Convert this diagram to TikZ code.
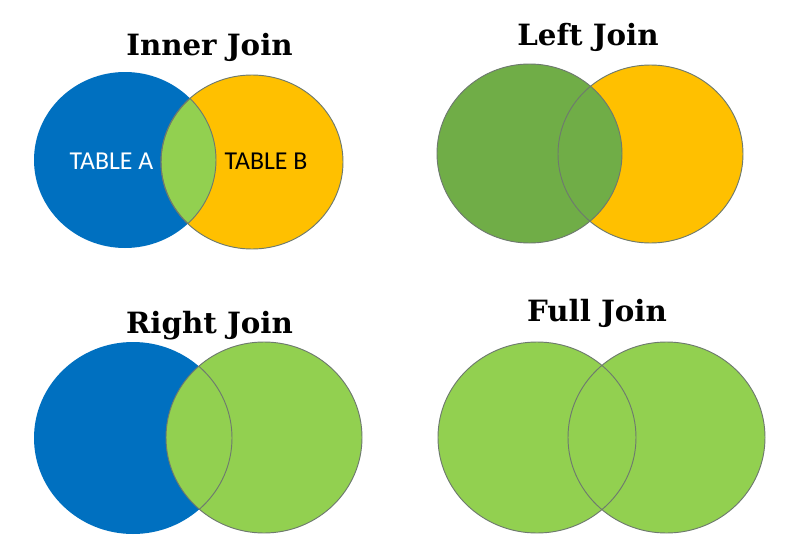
\documentclass[tikz,border=0pt]{standalone}
\usepackage{fontspec}
\newfontfamily\titlefont{DejaVu Serif}
\newfontfamily\labelfont{Carlito}
\definecolor{cblue}{RGB}{0,112,192}
\definecolor{cyellow}{RGB}{255,192,0}
\definecolor{clight}{RGB}{146,208,80}
\definecolor{cgreen}{RGB}{112,173,71}
\definecolor{cedge}{RGB}{110,122,110}
\begin{document}
\begin{tikzpicture}[x=0.03cm,y=-0.03cm,
  title/.style={font=\titlefont\bfseries\fontsize{25pt}{30pt}\selectfont,anchor=base,inner sep=0pt},
  tlabel/.style={font=\labelfont\fontsize{22pt}{26pt}\selectfont,anchor=base,inner sep=0pt},
  edge/.style={draw=cedge,line width=0.8pt}]
\useasboundingbox (0,0) rectangle (808,559);
\fill[white] (0,0) rectangle (808,559);
% ---------- Inner Join ----------
\node[title] (t1) at (209.5,55) {Inner Join};
\fill[cblue] (125,160) ellipse [x radius=91, y radius=88];
\fill[cyellow] (252,162) ellipse [x radius=91, y radius=87];
\begin{scope}
  \clip (125,160) ellipse [x radius=91, y radius=88];
  \fill[clight] (252,162) ellipse [x radius=91, y radius=87];
  \draw[edge] (252,162) ellipse [x radius=91, y radius=87];
\end{scope}
\begin{scope}
  \clip (252,162) ellipse [x radius=91, y radius=87];
  \draw[edge] (125,160) ellipse [x radius=91, y radius=88];
\end{scope}
\draw[edge] (252,162) ellipse [x radius=91, y radius=87];
\node[tlabel,text=white] (la) at (111.5,169) {TABLE A};
\node[tlabel,text=black] (lb) at (266,169) {TABLE B};
% ---------- Left Join ----------
\node[title] (t2) at (588,45) {Left Join};
\fill[cyellow] (650.5,154) ellipse [x radius=92.5, y radius=89];
\fill[cgreen] (529.5,153.5) ellipse [x radius=92.5, y radius=89.5];
\draw[edge] (650.5,154) ellipse [x radius=92.5, y radius=89];
\draw[edge] (529.5,153.5) ellipse [x radius=92.5, y radius=89.5];
% ---------- Right Join ----------
\node[title] (t3) at (209.5,333) {Right Join};
\fill[cblue] (133,438) ellipse [x radius=99, y radius=96];
\fill[clight] (264,437.5) ellipse [x radius=98, y radius=95.5];
\begin{scope}
  \clip (264,437.5) ellipse [x radius=98, y radius=95.5];
  \draw[edge] (133,438) ellipse [x radius=99, y radius=96];
\end{scope}
\draw[edge] (264,437.5) ellipse [x radius=98, y radius=95.5];
% ---------- Full Join ----------
\node[title] (t4) at (597,321) {Full Join};
\fill[clight] (537,437.5) ellipse [x radius=99, y radius=95.5];
\fill[clight] (666.5,437.5) ellipse [x radius=98.5, y radius=95.5];
\draw[edge] (537,437.5) ellipse [x radius=99, y radius=95.5];
\draw[edge] (666.5,437.5) ellipse [x radius=98.5, y radius=95.5];
\end{tikzpicture}
\end{document}
